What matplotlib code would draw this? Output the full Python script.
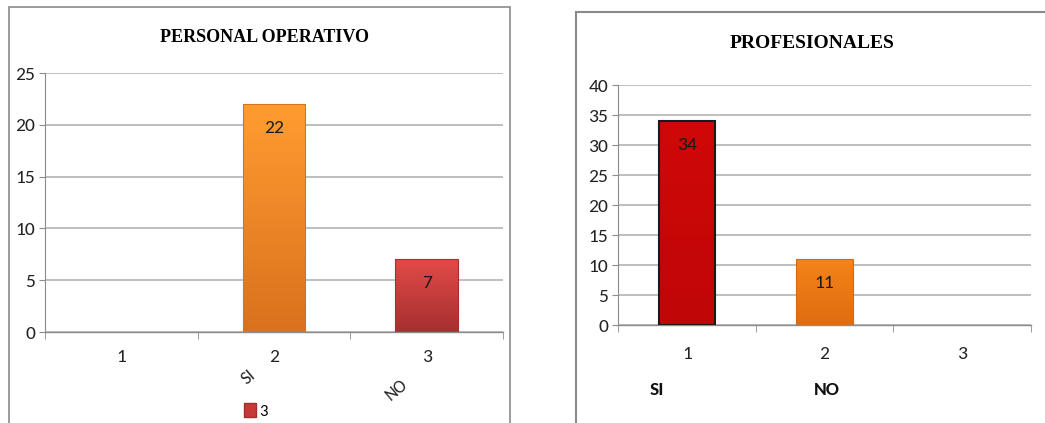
import matplotlib
matplotlib.use("Agg")
import matplotlib.pyplot as plt
import numpy as np
from matplotlib.patches import Rectangle, Patch
from matplotlib.colors import LinearSegmentedColormap

# ---- data ----
categories = [1, 2, 3]
tick_labels = ["1", "2", "3"]
left_title = "PERSONAL OPERATIVO"
left_values = [0, 22, 7]
left_extra_labels = ["SI", "NO"]
right_title = "PROFESIONALES"
right_values = [34, 11, 0]
right_extra_labels = ["SI", "NO"]
legend_label = "3"

# ---- style ----
SANS = ["Liberation Sans Narrow", "Carlito", "Liberation Sans", "DejaVu Sans"]
SERIF = ["Liberation Serif", "DejaVu Serif"]
plt.rcParams["font.family"] = SANS
GRID = "#b4b4b4"
AX = "#8c8c8c"
left_grad = [None, ("#ff9c30", "#d8721e"), ("#e24a48", "#a63030")]
right_grad = [("#d00808", "#c00606"), ("#f5841a", "#e06c10"), None]
right_edges = ["#1a1a1a", "#d06a18", None]
FS = 14

fig = plt.figure(figsize=(10.45, 4.23), dpi=100)

# panel borders
fig.add_artist(Rectangle((9 / 1045, -0.05), (510 - 9) / 1045, 1.05 - 7 / 423,
                         transform=fig.transFigure, fill=False, ec="#8a8a8a", lw=1.2))
fig.add_artist(Rectangle((576 / 1045, -0.05), 0.5, 1.05 - 12 / 423,
                         transform=fig.transFigure, fill=False, ec="#8a8a8a", lw=1.5))


def setup(ax, ymax, ystep, label_pad):
    ax.set_xlim(0.5, 3.5)
    ax.set_ylim(0, ymax)
    ax.set_yticks(np.arange(0, ymax + 0.1, ystep))
    ax.yaxis.grid(True, color=GRID, lw=1.2)
    ax.set_axisbelow(True)
    for s in ["top", "right"]:
        ax.spines[s].set_visible(False)
    ax.spines["left"].set_color(AX)
    ax.spines["bottom"].set_color(AX)
    ax.spines["bottom"].set_linewidth(1.0)
    ax.set_xticks(categories)
    ax.set_xticklabels(tick_labels)
    ax.set_xticks([0.5, 1.5, 2.5, 3.5], minor=True)
    ax.tick_params(axis="x", which="major", length=0, pad=label_pad, labelsize=FS, colors="#222222")
    ax.tick_params(axis="x", which="minor", length=5, color=AX, direction="out")
    ax.tick_params(axis="y", length=4, color=AX, labelsize=FS, colors="#222222", pad=3)
    ax.patch.set_alpha(0)


def gradient_bars(ax, values, grads, edges=None):
    bars = ax.bar(categories, values, width=0.41, color="none", zorder=3)
    for i, (b, g) in enumerate(zip(bars, grads)):
        if g is None or values[i] == 0:
            continue
        cmap = LinearSegmentedColormap.from_list("g", [g[1], g[0]])
        x0, w, h = b.get_x(), b.get_width(), b.get_height()
        img = ax.imshow(np.linspace(0, 1, 64).reshape(-1, 1), cmap=cmap, origin="lower",
                        extent=(x0, x0 + w, 0, h), aspect="auto", zorder=2.5)
        img.set_clip_path(b)
        ec = edges[i] if edges else g[1]
        b.set_edgecolor(ec)
        b.set_linewidth(1.5 if edges and i == 0 else 0.8)
        ax.annotate(str(values[i]), (categories[i], h), xytext=(0, -17),
                    textcoords="offset points", ha="center", va="center",
                    fontsize=FS, color="#1a1a1a", zorder=4)
    ax.set_xlim(0.5, 3.5)
    return bars


# ---- left chart ----
axL = fig.add_axes([45 / 1045, 91 / 423, (503 - 45) / 1045, (350 - 91) / 423])
setup(axL, 25, 5, 12)
gradient_bars(axL, left_values, left_grad)
axL.set_ylim(0, 25)
fig.text(264 / 1045, 1 - 37 / 423, left_title, ha="center", va="center",
         family=SERIF, fontweight="bold", fontsize=13)
axL.text(1.83, -0.174, left_extra_labels[0], transform=axL.get_xaxis_transform(),
         rotation=40, ha="center", va="center", fontsize=FS - 1, color="#222222")
axL.text(2.80, -0.224, left_extra_labels[1], transform=axL.get_xaxis_transform(),
         rotation=40, ha="center", va="center", fontsize=FS - 1, color="#222222")
fig.legend(handles=[Patch(facecolor="#c83a38", edgecolor="#a03030", label=legend_label)],
           loc="center", bbox_to_anchor=(256 / 1045, 1 - 411 / 423), frameon=False,
           fontsize=12, handlelength=0.7, handleheight=0.9, handletextpad=0.2,
           borderpad=0, borderaxespad=0)

# ---- right chart ----
axR = fig.add_axes([618 / 1045, 98 / 423, (1031 - 618) / 1045, (338 - 98) / 423])
setup(axR, 40, 5, 15)
gradient_bars(axR, right_values, right_grad, right_edges)
axR.set_ylim(0, 40)
fig.text(812 / 1045, 1 - 43 / 423, right_title, ha="center", va="center",
         family=SERIF, fontweight="bold", fontsize=14)
axR.text(0.783, -0.271, right_extra_labels[0], transform=axR.get_xaxis_transform(),
         ha="center", va="center", fontsize=FS, fontweight="bold", color="#111111")
axR.text(2.018, -0.271, right_extra_labels[1], transform=axR.get_xaxis_transform(),
         ha="center", va="center", fontsize=FS, fontweight="bold", color="#111111")

fig.savefig("out.png", dpi=100, facecolor="white")
